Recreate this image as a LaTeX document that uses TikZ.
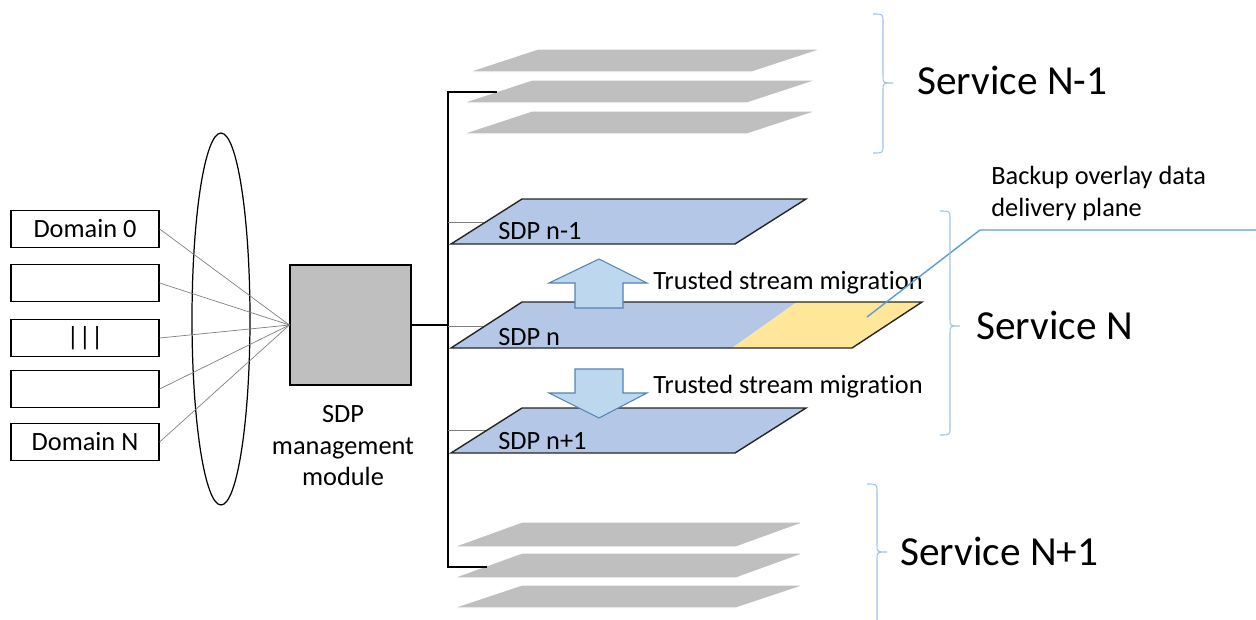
\documentclass[tikz,border=0pt]{standalone}
\usepackage{fontspec}
\setmainfont{Carlito}[Ligatures=NoCommon]
\usepackage{tikz}
\usetikzlibrary{shapes.geometric}
\definecolor{planegray}{RGB}{191,191,191}
\definecolor{planeblue}{RGB}{180,199,231}
\definecolor{planeyellow}{RGB}{255,230,153}
\definecolor{arrowfill}{RGB}{189,215,238}
\definecolor{arrowline}{RGB}{84,130,180}
\definecolor{bracecol}{RGB}{157,195,230}
\definecolor{calloutcol}{RGB}{91,155,213}
\tikzset{
  small/.style={font=\fontsize{15}{18}\selectfont},
  big/.style={font=\fontsize{23.5}{28}\selectfont},
  dombox/.style={draw,line width=0.7pt,minimum width=2.96cm,minimum height=0.74cm,
    inner sep=0pt,small},
  fanline/.style={gray,line width=0.4pt},
  bus/.style={line width=1.1pt,black},
  stub/.style={gray,line width=0.5pt},
  grayplane/.style={fill=planegray,draw=white,line width=0.6pt},
  blueplane/.style={fill=planeblue,draw=black!85,line width=0.8pt},
  migrarrow/.style={fill=arrowfill,draw=arrowline,line width=0.6pt}
}
% parallelogram: style, bottom-left x, bottom y, width, skew, height
\newcommand{\splane}[6]{%
  \path[#1] (#2,#3) -- ++(#4,0) -- ++(#5,-#6) -- ++(-#4,0) -- cycle;}
% right brace: line x, top y, tip y, bottom y
\newcommand{\sbrace}[4]{%
  \draw[bracecol,line width=0.6pt] ({#1-10},#2) .. controls (#1,#2) .. (#1,{#2+8})
    -- (#1,{#3-7}) .. controls (#1,#3) .. ({#1+10},#3)
    .. controls (#1,#3) .. (#1,{#3+7}) -- (#1,{#4-8}) .. controls (#1,#4) .. ({#1-10},#4);}

\begin{document}
\begin{tikzpicture}[x=0.02cm,y=-0.02cm]
  \useasboundingbox (0,0) rectangle (1256,619);

  % domains and management module
  \node[draw,ellipse,line width=0.7pt,minimum width=1.16cm,minimum height=7.44cm,inner sep=0pt]
    (hub) at (221,319) {};
  \foreach \i/\yc/\txt in {0/229/Domain 0,1/283/,2/338/|||,3/389/,4/442/Domain N}{
    \node[dombox] (dom\i) at (85,\yc) {\txt};}
  \node[draw,fill=planegray,line width=0.7pt,minimum width=2.42cm,minimum height=2.4cm,
    inner sep=0pt] (mgmt) at (350.5,325) {};
  \node[small,align=center,anchor=north,inner sep=0pt] (mgmtlbl) at (343,405)
    {SDP\\management\\module};
  \foreach \i in {0,...,4}{\draw[fanline] (dom\i.east) -- (mgmt.west);}

  % bus to the planes
  \coordinate (busn) at (448,325);
  \coordinate (upend) at (497,92);
  \coordinate (lowend) at (487,567);
  \draw[bus] (mgmt.east) -- (busn);
  \draw[bus] (upend) -- (upend -| busn) -- (lowend -| busn) -- (lowend);
  \draw[stub] (448,222) -- (487,222);
  \draw[stub] (448,326) -- (486,326);
  \draw[stub] (448,430) -- (487,430);

  % service N-1 and N+1 stacks
  \splane{grayplane}{468}{72}{284}{70}{23}
  \splane{grayplane}{462}{103}{285}{70}{23}
  \splane{grayplane}{462}{134}{285}{70}{23}
  \draw[bus] (upend) -- (upend -| busn);
  \splane{grayplane}{453}{547}{283}{69}{25}
  \splane{grayplane}{453}{578}{283}{69}{25}
  \splane{grayplane}{453}{608}{283}{69}{23}
  \draw[bus] (lowend -| busn) -- (lowend);

  % service N planes
  \splane{blueplane}{451}{244}{284}{71}{45}
  \fill[planeblue] (451,348) -- (732,348) -- (797,302) -- (522,302) -- cycle;
  \fill[planeyellow] (732,348) -- (852,348) -- (922,302) -- (797,302) -- cycle;
  \draw[black!85,line width=0.8pt] (451,348) -- (852,348) -- (922,302) -- (522,302) -- cycle;
  \splane{blueplane}{451}{453}{284}{71}{45}

  \node[small,anchor=base west,inner sep=0pt] (sdpa) at (498,239) {SDP n-1};
  \node[small,anchor=base west,inner sep=0pt] (sdpb) at (498,345) {SDP n};
  \node[small,anchor=base west,inner sep=0pt] (sdpc) at (498,449) {SDP n+1};

  % migration arrows
  \path[migrarrow] (575,308) -- (575,283) -- (549,283) -- (599,259) -- (647,283)
    -- (623,283) -- (623,308) -- cycle;
  \path[migrarrow] (575,369) -- (623,369) -- (623,393) -- (647,393) -- (599,418)
    -- (549,393) -- (575,393) -- cycle;
  \node[small,anchor=base west,inner sep=0pt] (migup) at (653,289) {Trusted stream migration};
  \node[small,anchor=base west,inner sep=0pt] (migdn) at (653,393) {Trusted stream migration};

  % backup plane callout
  \node[small,align=left,anchor=base west,inner sep=0pt] (backup) at (991,216)
    {Backup overlay data\\delivery plane};
  \coordinate (bktip) at (867,317);
  \coordinate (bkknee) at (980,230);
  \draw[calloutcol,line width=0.8pt] (bktip) -- (bkknee) -- (bkknee -| 1256,0);

  % services
  \sbrace{883}{14}{83}{153}
  \sbrace{950}{211}{326}{435}
  \sbrace{877}{484}{552}{680}
  \node[big,anchor=base west,inner sep=0pt] (svca) at (917,94) {Service N-1};
  \node[big,anchor=base west,inner sep=0pt] (svcb) at (976,339) {Service N};
  \node[big,anchor=base west,inner sep=0pt] (svcc) at (900,565) {Service N+1};
\end{tikzpicture}
\end{document}
